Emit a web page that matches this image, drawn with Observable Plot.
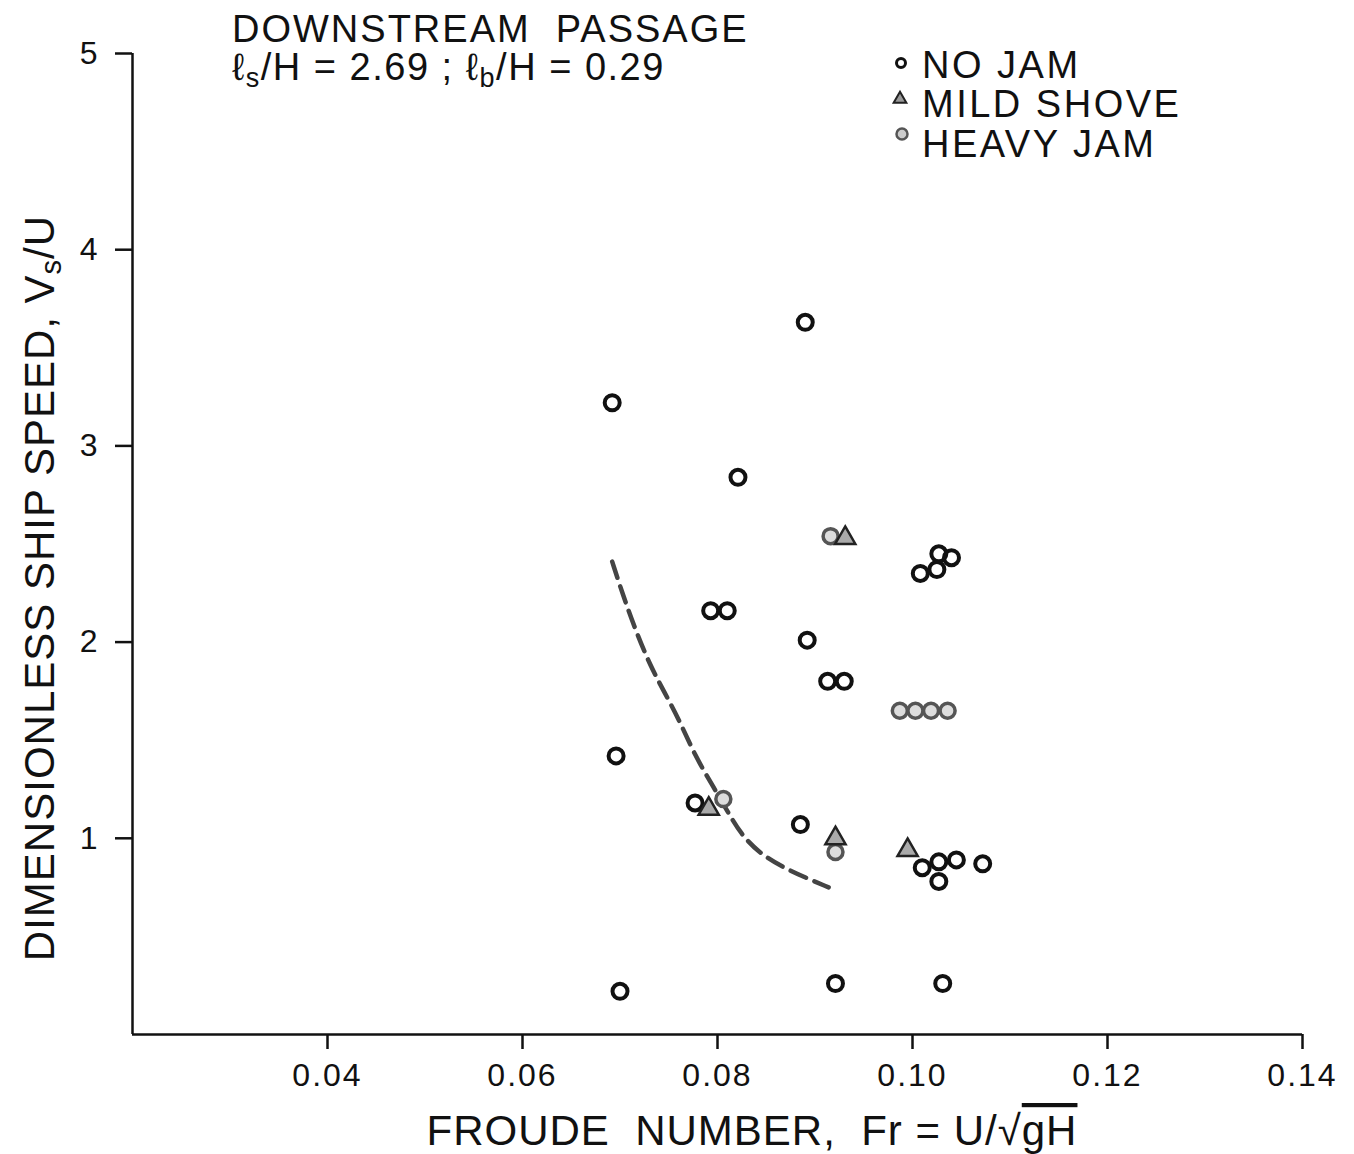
<!DOCTYPE html>
<html><head><meta charset="utf-8">
<script src="https://cdn.jsdelivr.net/npm/d3@7"></script>
<script src="https://cdn.jsdelivr.net/npm/@observablehq/plot@0.6"></script>
<style>
body{margin:0;background:#fff}
#chart{position:relative;width:1354px;height:1154px}
svg text{font-family:"Liberation Sans",Arial,sans-serif}
</style>
</head><body><div id="chart"></div>
<script>
// --- data ---
const noJamFr = [0.0692,0.0890,0.0821,0.0696,0.0793,0.0810,0.0892,0.0913,0.0930,0.1008,0.1025,0.1027,0.1040,0.0700,0.0921,0.1031,0.0885,0.0777,0.1010,0.1027,0.1045,0.1072,0.1027];
const noJamV  = [3.22,3.63,2.84,1.42,2.16,2.16,2.01,1.80,1.80,2.35,2.37,2.45,2.43,0.22,0.26,0.26,1.07,1.18,0.85,0.88,0.89,0.87,0.78];
const heavyFr = [0.0806,0.0916,0.0921,0.0987,0.1003,0.1019,0.1036];
const heavyV  = [1.20,2.54,0.93,1.65,1.65,1.65,1.65];
const mildFr  = [0.0931,0.0791,0.0921,0.0995];
const mildV   = [2.53,1.15,1.00,0.94];
const curveFr = [0.0692,0.0703,0.0716,0.0731,0.0745,0.0762,0.0777,0.0796,0.0810,0.0824,0.0844,0.0868,0.0890,0.0914];
const curveV  = [2.41,2.24,2.06,1.88,1.75,1.59,1.42,1.26,1.14,1.02,0.92,0.85,0.80,0.75];
const xTicks = [0.04,0.06,0.08,0.10,0.12,0.14];
const yTicks = [1,2,3,4,5];

const toRows = (xs, ys) => xs.map((x, i) => ({x, y: ys[i]}));
const noJam = toRows(noJamFr, noJamV);
const heavy = toRows(heavyFr, heavyV);
const mild = toRows(mildFr, mildV);
const curve = toRows(curveFr, curveV);

const chart = Plot.plot({
  width: 1354, height: 1154,
  marginLeft: 132, marginRight: 52, marginTop: 53, marginBottom: 120,
  style: {fontSize: "32px", fontFamily: "Liberation Sans, Arial, sans-serif", color: "#111", background: "#fff"},
  x: {domain: [0.02, 0.14]},
  y: {domain: [0, 5]},
  marks: [
    Plot.axisX({ticks: xTicks, tickSize: 15, tickPadding: 14, strokeWidth: 2.5, tickFormat: d3.format(".2f"), label: null}),
    Plot.axisY({ticks: yTicks, tickSize: 17, tickPadding: 16, strokeWidth: 2.5, tickFormat: d3.format("d"), label: null}),
    Plot.ruleX([0.02], {stroke: "#111", strokeWidth: 2.5}),
    Plot.ruleY([0], {stroke: "#111", strokeWidth: 2.5}),
    Plot.line(curve, {x: "x", y: "y", stroke: "#444", strokeWidth: 4.5, strokeDasharray: "17,9", curve: "basis"}),
    Plot.dot(noJam, {x: "x", y: "y", r: 7.5, stroke: "#111", strokeWidth: 4, fill: "none"}),
    Plot.dot(heavy, {x: "x", y: "y", r: 7.5, stroke: "#555", strokeWidth: 3.5, fill: "#ddd"}),
    Plot.dot(mild, {x: "x", y: "y", r: 7.5, symbol: "triangle", stroke: "#222", strokeWidth: 2.5, fill: "#aaa"})
  ]
});
chart.querySelectorAll("text").forEach(t => { t.style.letterSpacing = "2px"; });
document.getElementById("chart").appendChild(chart);

const svg = d3.select(chart);
const ink = "#111";
// Title
svg.append("text").attr("x", 232).attr("y", 42).attr("font-size", 38).attr("fill", ink).attr("text-anchor", "start")
  .attr("xml:space", "preserve").style("letter-spacing", "2px").text("DOWNSTREAM  PASSAGE");
const t2 = svg.append("text").attr("x", 232).attr("y", 80).attr("font-size", 38).attr("fill", ink).attr("text-anchor", "start")
  .style("letter-spacing", "1.5px");
t2.append("tspan").text("ℓ");
t2.append("tspan").attr("font-size", 27).attr("dy", 7).text("s");
t2.append("tspan").attr("dy", -7).text("/H = 2.69 ; ");
t2.append("tspan").text("ℓ");
t2.append("tspan").attr("font-size", 27).attr("dy", 7).text("b");
t2.append("tspan").attr("dy", -7).text("/H = 0.29");

// Legend
const legend = [
  {label: "NO JAM", y: 78},
  {label: "MILD SHOVE", y: 117},
  {label: "HEAVY JAM", y: 157}
];
legend.forEach(d => svg.append("text").attr("x", 922).attr("y", d.y).attr("font-size", 38).attr("fill", ink)
  .attr("text-anchor", "start").style("letter-spacing", "2.5px").text(d.label));
svg.append("circle").attr("cx", 901).attr("cy", 63).attr("r", 4.5).attr("fill", "none").attr("stroke", ink).attr("stroke-width", 3);
svg.append("path").attr("d", d3.symbol(d3.symbolTriangle, 70)()).attr("transform", "translate(900,99)")
  .attr("fill", "#999").attr("stroke", "#222").attr("stroke-width", 2);
svg.append("circle").attr("cx", 902).attr("cy", 134).attr("r", 5.5).attr("fill", "#ccc").attr("stroke", "#555").attr("stroke-width", 2.5);

// Axis labels
const yl = svg.append("text").attr("transform", "translate(54,588) rotate(-90)").attr("text-anchor", "middle")
  .attr("font-size", 42).attr("fill", ink).style("letter-spacing", "1px");
yl.append("tspan").text("DIMENSIONLESS SHIP SPEED, V");
yl.append("tspan").attr("font-size", 29).attr("dy", 7).text("s");
yl.append("tspan").attr("dy", -7).text("/U");

const xl = svg.append("text").attr("x", 752).attr("y", 1145).attr("text-anchor", "middle")
  .attr("font-size", 42).attr("fill", ink).attr("xml:space", "preserve").style("letter-spacing", "1px");
xl.append("tspan").text("FROUDE  NUMBER,  Fr = U/√");
xl.append("tspan").style("text-decoration", "overline").text("gH");
</script>
</body></html>
